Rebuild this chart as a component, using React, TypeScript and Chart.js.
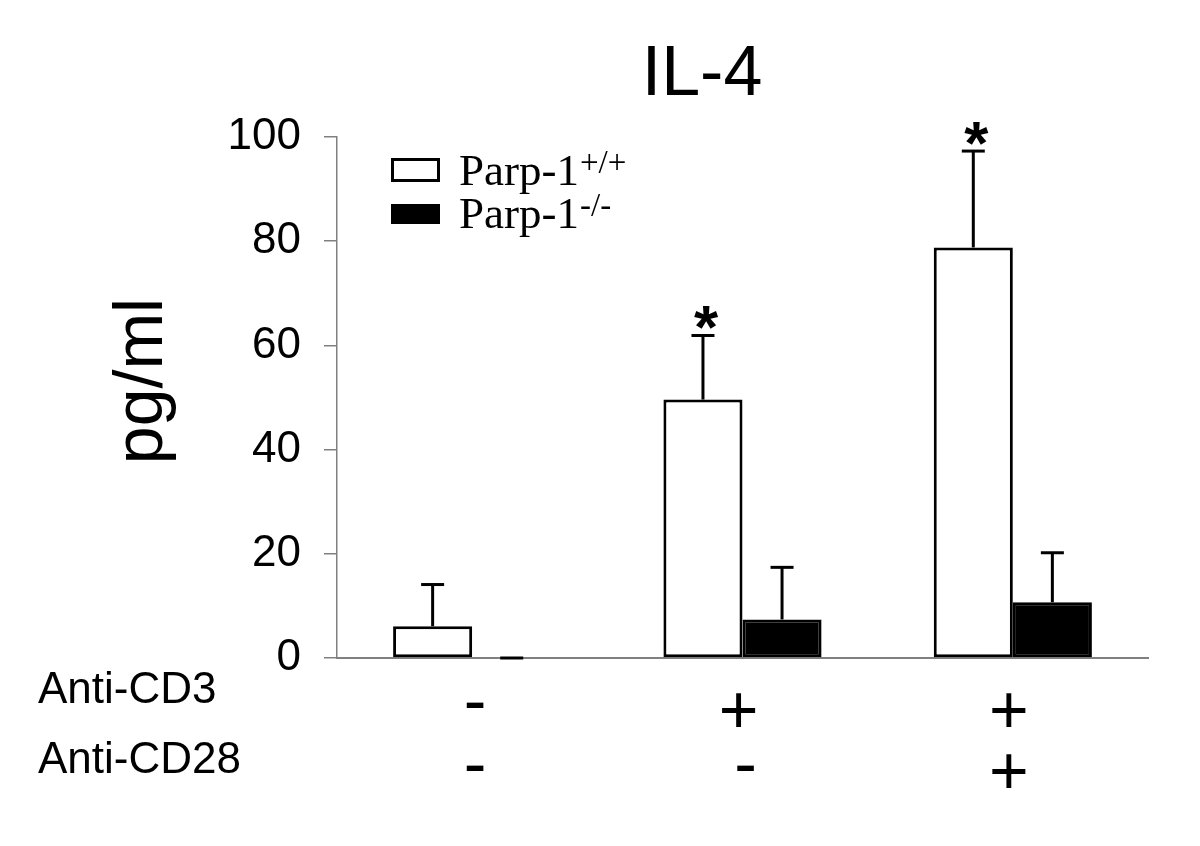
import React, { useEffect, useRef } from 'react';
import { Chart, registerables } from 'chart.js';

Chart.register(...registerables);

// ---- data ----
const cd3Row = ['-', '+', '+'];
const cd28Row = ['-', '-', '+'];
const wtMean = [6.1, 49.6, 78.8];
const wtSD = [8.0, 12.3, 18.5];
const koMean = [0, 7.4, 10.7];
const koSD = [0, 10.0, 9.5];
const wtSig = ['', '*', '*'];
const koSig = ['', '', ''];
const yMin = 0;
const yMax = 100;
const yStep = 20;
const titleText = 'IL-4';
const yTitle = 'pg/ml';
const rowLabels = ['Anti-CD3', 'Anti-CD28'];
const legendItems = [
  { base: 'Parp-1', sup: '+/+', fill: '#ffffff' },
  { base: 'Parp-1', sup: '-/-', fill: '#000000' },
];

const SANS = '"Liberation Sans", Arial, Helvetica, sans-serif';
const SERIF = '"Liberation Serif", "Times New Roman", serif';

function drawCentered(ctx: any, text: string, x: number, cy: number) {
  ctx.textAlign = 'center';
  ctx.textBaseline = 'alphabetic';
  const m = ctx.measureText(text);
  const a = m.actualBoundingBoxAscent;
  const d = m.actualBoundingBoxDescent;
  ctx.fillText(text, x, cy + (a - d) / 2);
}

const overlayPlugin = {
  id: 'overlay',
  afterDatasetsDraw(chart: any) {
    const ctx = chart.ctx;
    const ys = chart.scales.y;
    const sets = [
      { mean: wtMean, sd: wtSD, sig: wtSig },
      { mean: koMean, sd: koSD, sig: koSig },
    ];
    ctx.save();
    ctx.strokeStyle = '#000';
    ctx.lineWidth = 3;
    sets.forEach((s, di) => {
      const meta = chart.getDatasetMeta(di);
      meta.data.forEach((bar: any, i: number) => {
        const x = bar.x;
        const yBase = ys.getPixelForValue(s.mean[i]);
        const yTop = ys.getPixelForValue(s.mean[i] + s.sd[i]);
        if (yBase - yTop > 0) {
          ctx.beginPath();
          ctx.moveTo(x, yBase);
          ctx.lineTo(x, yTop);
          ctx.stroke();
        }
        ctx.beginPath();
        ctx.moveTo(x - 11.5, yTop);
        ctx.lineTo(x + 11.5, yTop);
        ctx.stroke();
        if (s.sig[i]) {
          ctx.fillStyle = '#000';
          ctx.font = `bold 62px ${SANS}`;
          drawCentered(ctx, s.sig[i], x + 3, yTop - 18);
        }
      });
    });
    ctx.restore();
  },
  afterDraw(chart: any) {
    const ctx = chart.ctx;
    const xs = chart.scales.x;
    ctx.save();
    ctx.fillStyle = '#000';
    // title
    ctx.font = `70px ${SANS}`;
    ctx.textAlign = 'center';
    ctx.textBaseline = 'alphabetic';
    ctx.fillText(titleText, 702, 95);
    // y title
    ctx.save();
    ctx.translate(162, 381);
    ctx.rotate(-Math.PI / 2);
    ctx.font = `68px ${SANS}`;
    ctx.textAlign = 'center';
    ctx.fillText(yTitle, 0, 0);
    ctx.restore();
    // row labels
    ctx.font = `44px ${SANS}`;
    ctx.textAlign = 'left';
    ctx.textBaseline = 'alphabetic';
    ctx.fillText(rowLabels[0], 38, 703);
    ctx.fillText(rowLabels[1], 38, 773);
    // treatment symbols under each category (positions from the x scale)
    ctx.font = `68px ${SANS}`;
    const rows = [
      { vals: cd3Row, plusY: 710, minusY: 705 },
      { vals: cd28Row, plusY: 771, minusY: 768 },
    ];
    rows.forEach((r) => {
      r.vals.forEach((v, i) => {
        const x = xs.getPixelForValue(i);
        drawCentered(ctx, v, x + (v === '+' ? -4 : 3), v === '+' ? r.plusY : r.minusY);
      });
    });
    // legend
    const boxes = [
      { top: 158, bottom: 182, baseline: 185 },
      { top: 204, bottom: 224, baseline: 228 },
    ];
    legendItems.forEach((it, i) => {
      const b = boxes[i];
      ctx.fillStyle = '#000';
      ctx.fillRect(391, b.top, 49, b.bottom - b.top);
      if (it.fill !== '#000000') {
        ctx.fillStyle = it.fill;
        ctx.fillRect(394, b.top + 3, 43, b.bottom - b.top - 6);
      }
      ctx.fillStyle = '#000';
      ctx.font = `45px ${SERIF}`;
      ctx.textAlign = 'left';
      ctx.textBaseline = 'alphabetic';
      ctx.fillText(it.base, 459, b.baseline);
      const w = ctx.measureText(it.base).width;
      ctx.font = `33px ${SERIF}`;
      ctx.fillText(it.sup, 459 + w + 1, b.baseline - 12);
    });
    ctx.restore();
  },
};

export default function App() {
  const ref = useRef<HTMLCanvasElement | null>(null);
  useEffect(() => {
    if (!ref.current) return;
    const labels = cd3Row.map((v, i) => `${v}/${cd28Row[i]}`);
    const chart = new Chart(ref.current, {
      type: 'bar',
      data: {
        labels,
        datasets: [
          {
            label: 'Parp-1+/+',
            data: wtMean,
            backgroundColor: '#ffffff',
            borderColor: '#000000',
            borderWidth: 3,
            borderSkipped: false,
            categoryPercentage: 0.585,
            barPercentage: 1,
          },
          {
            label: 'Parp-1-/-',
            data: koMean,
            backgroundColor: '#000000',
            borderColor: '#000000',
            borderWidth: 3,
            borderSkipped: false,
            categoryPercentage: 0.585,
            barPercentage: 1,
          },
        ],
      },
      options: {
        responsive: false,
        animation: false,
        devicePixelRatio: 1,
        layout: { padding: { top: 137, left: 0, right: 52, bottom: 0 } },
        plugins: {
          legend: { display: false },
          title: { display: false },
          tooltip: { enabled: false },
        },
        scales: {
          x: {
            type: 'category',
            offset: true,
            grid: { display: false, drawTicks: false },
            border: { display: true, color: '#808080', width: 2 },
            ticks: { display: false },
            afterFit: (s: any) => {
              s.height = 188;
            },
          },
          y: {
            min: yMin,
            max: yMax,
            ticks: {
              stepSize: yStep,
              color: '#000',
              font: { family: SANS, size: 44 },
              padding: 23,
            },
            grid: {
              drawOnChartArea: false,
              drawTicks: true,
              tickLength: 13,
              color: '#808080',
              lineWidth: 1.5,
            },
            border: { display: true, color: '#808080', width: 1.5 },
            afterFit: (s: any) => {
              s.width = 337;
            },
          },
        },
      },
      plugins: [overlayPlugin],
    } as any);
    return () => chart.destroy();
  }, []);
  return (
    <div style={{ position: 'absolute', left: 0, top: 0, width: 1200, height: 846, background: '#fff' }}>
      <canvas ref={ref} width={1200} height={846} />
    </div>
  );
}
